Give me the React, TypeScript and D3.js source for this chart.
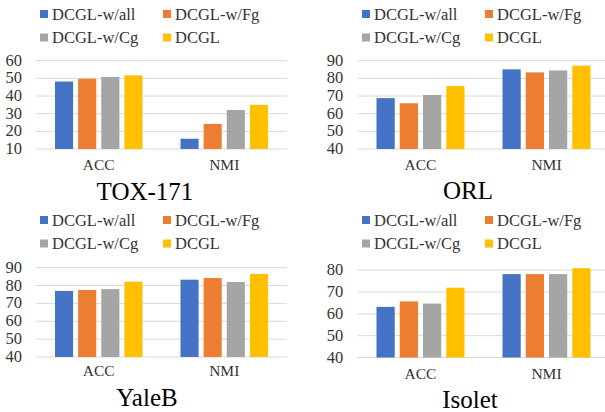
import * as d3 from "d3";

// categories and series
const categories = ["ACC", "NMI"];
const seriesNames = ["DCGL-w/all", "DCGL-w/Fg", "DCGL-w/Cg", "DCGL"];
const colors = ["#4472C4", "#ED7D31", "#A5A5A5", "#FFC000"];

// values, per dataset: [ACC per series], [NMI per series]
const toxAcc = [48.2, 49.8, 50.8, 51.7];
const toxNmi = [15.8, 24.2, 32.1, 35.0];
const orlAcc = [68.8, 65.9, 70.6, 75.7];
const orlNmi = [85.1, 83.4, 84.5, 87.2];
const yaleAcc = [77.0, 77.5, 78.0, 82.2];
const yaleNmi = [83.3, 84.2, 82.0, 86.5];
const isoletAcc = [63.2, 65.7, 64.7, 72.0];
const isoletNmi = [78.2, 78.2, 78.2, 80.9];

// tick labels
const toxTicks = [10, 20, 30, 40, 50, 60];
const orlTicks = [40, 50, 60, 70, 80, 90];
const yaleTicks = [40, 50, 60, 70, 80, 90];
const isoletTicks = [40, 50, 60, 70, 80];

const FONT = "Liberation Serif";

type PanelProps = {
  title: string;
  acc: number[];
  nmi: number[];
  ticks: number[];
  ox: number;
  oy: number;
  plotX: [number, number];
  plotY: [number, number];
  gridEnd: number;
  labelRight: number;
  legendX: [number, number];
  catY: number;
  titleY: number;
  titleX: number;
};

function Panel(p: PanelProps) {
  const values = [p.acc, p.nmi];
  const x0 = d3.scaleBand().domain(categories).range(p.plotX);
  const bw = x0.bandwidth();
  const x1 = d3
    .scaleBand()
    .domain(seriesNames)
    .range([19, bw - 19])
    .paddingInner(0.217);
  const y = d3
    .scaleLinear()
    .domain([p.ticks[0], p.ticks[p.ticks.length - 1]])
    .range([p.plotY[1], p.plotY[0]]);

  return (
    <g transform={`translate(${p.ox},${p.oy})`} fontFamily={FONT}>
      {/* legend */}
      {seriesNames.map((s, i) => {
        const lx = p.legendX[i % 2];
        const ly = i < 2 ? 14 : 37.5;
        return (
          <g key={s}>
            <rect x={lx} y={ly - 4} width={8} height={8} fill={colors[i]} />
            <text
              x={lx + 12}
              y={ly + 5.5}
              fill="#333"
              fontFamily={FONT}
              fontSize={16.5}
            >
              {s}
            </text>
          </g>
        );
      })}

      {/* grid */}
      {p.ticks.map((t) => (
        <g key={t}>
          <line
            x1={p.plotX[0]}
            x2={p.gridEnd}
            y1={y(t)}
            y2={y(t)}
            stroke="#d9d9d9"
            strokeWidth={1}
          />
          <text
            x={p.labelRight}
            y={y(t) + 5}
            textAnchor="end"
            fill="#333"
            fontFamily={FONT}
            fontSize={16.5}
          >
            {t}
          </text>
        </g>
      ))}

      {/* bars */}
      {categories.map((c, ci) => (
        <g key={c} transform={`translate(${x0(c)},0)`}>
          {seriesNames.map((s, si) => (
            <rect
              key={s}
              x={x1(s)}
              y={y(values[ci][si])}
              width={x1.bandwidth()}
              height={y(p.ticks[0]) - y(values[ci][si])}
              fill={colors[si]}
            />
          ))}
          <text
            x={bw / 2}
            y={p.catY}
            textAnchor="middle"
            fill="#333"
            fontFamily={FONT}
            fontSize={15.5}
          >
            {c}
          </text>
        </g>
      ))}

      <text
        x={p.titleX}
        y={p.titleY}
        textAnchor="middle"
        fill="#000"
        fontFamily={FONT}
        fontSize={25}
      >
        {p.title}
      </text>
    </g>
  );
}

export default function App() {
  return (
    <svg
      width={605}
      height={412}
      style={{ position: "absolute", left: 0, top: 0, background: "#fff" }}
    >
      <Panel
        title="TOX-171"
        acc={toxAcc}
        nmi={toxNmi}
        ticks={toxTicks}
        ox={0}
        oy={0}
        plotX={[36, 287]}
        plotY={[60.7, 149]}
        gridEnd={287}
        labelRight={22}
        legendX={[40, 163]}
        catY={169.5}
        titleY={200}
        titleX={145}
      />
      <Panel
        title="ORL"
        acc={orlAcc}
        nmi={orlNmi}
        ticks={orlTicks}
        ox={300}
        oy={0}
        plotX={[57.5, 309.5]}
        plotY={[60.7, 149]}
        gridEnd={310}
        labelRight={43.3}
        legendX={[62, 185]}
        catY={169.5}
        titleY={199}
        titleX={168}
      />
      <Panel
        title="YaleB"
        acc={yaleAcc}
        nmi={yaleNmi}
        ticks={yaleTicks}
        ox={0}
        oy={206}
        plotX={[36, 287]}
        plotY={[61.7, 151]}
        gridEnd={287}
        labelRight={22}
        legendX={[40, 163]}
        catY={170}
        titleY={200}
        titleX={147}
      />
      <Panel
        title="Isolet"
        acc={isoletAcc}
        nmi={isoletNmi}
        ticks={isoletTicks}
        ox={300}
        oy={206}
        plotX={[57.5, 309.5]}
        plotY={[64.2, 151.5]}
        gridEnd={310}
        labelRight={43.3}
        legendX={[62, 185]}
        catY={172.5}
        titleY={201.5}
        titleX={170}
      />
    </svg>
  );
}
